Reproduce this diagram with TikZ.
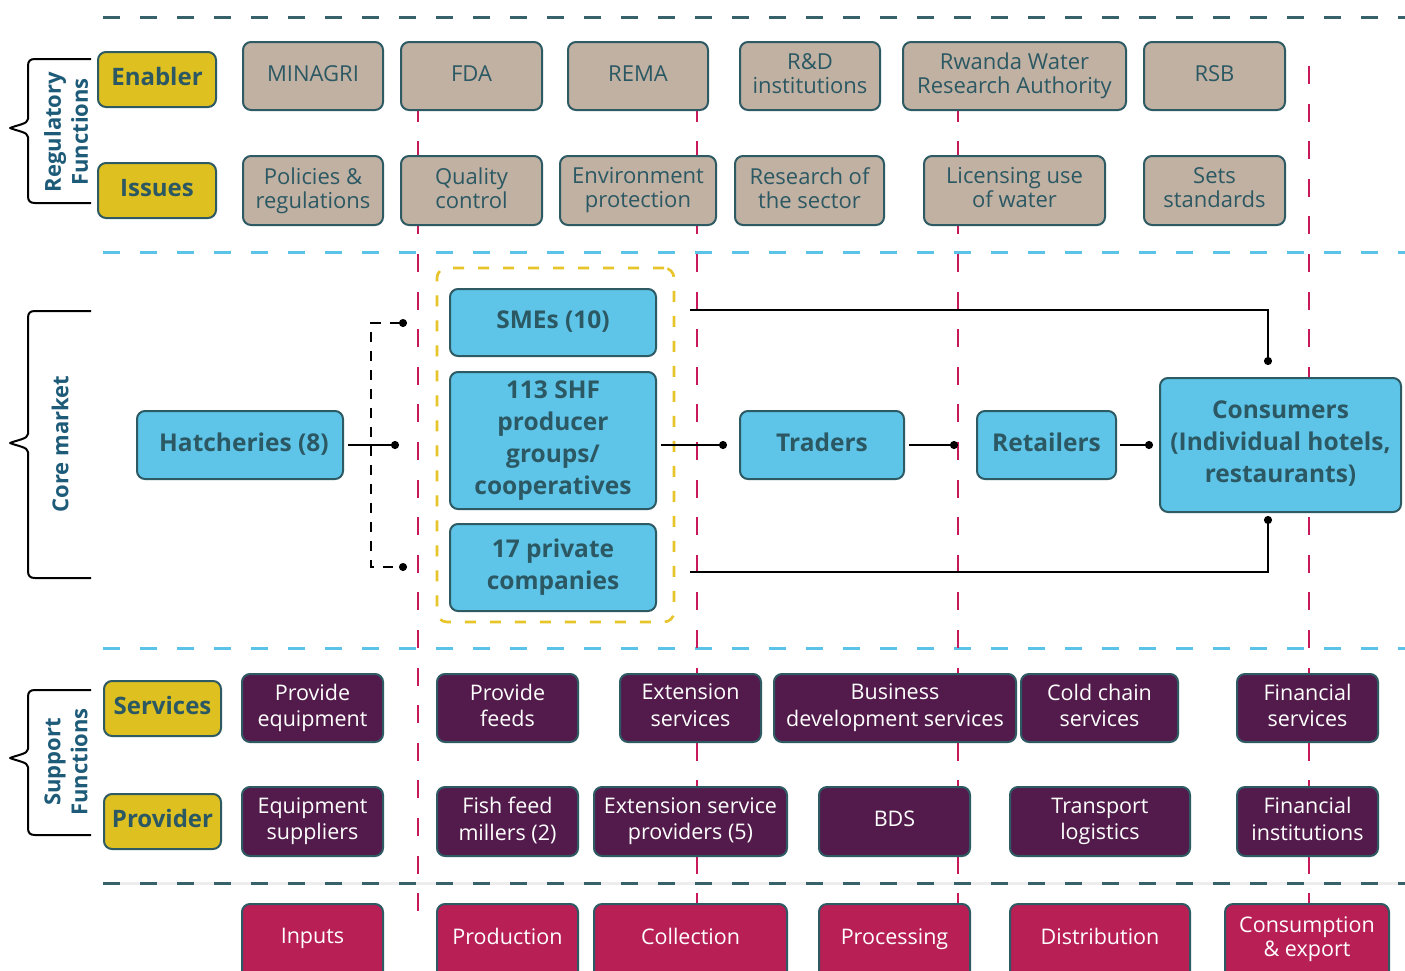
\documentclass[tikz,border=0pt]{standalone}
\usepackage{fontspec}
\setmainfont{Open Sans}
\usetikzlibrary{arrows.meta}

\definecolor{tealline}{HTML}{2E5A64}
\definecolor{tealtext}{HTML}{2B5863}
\definecolor{labelblue}{HTML}{1E5B79}
\definecolor{tanfill}{HTML}{C1B1A2}
\definecolor{goldfill}{HTML}{DFC021}
\definecolor{skyfill}{HTML}{5EC5E9}
\definecolor{plumfill}{HTML}{521B4B}
\definecolor{crimsonfill}{HTML}{B71F55}
\definecolor{stageline}{HTML}{C81A5A}
\definecolor{bandteal}{HTML}{37626B}
\definecolor{bandsky}{HTML}{5BC3E8}
\definecolor{groupgold}{HTML}{E6C42A}

\pgfdeclarelayer{paper}
\pgfdeclarelayer{guides}
\pgfdeclarelayer{plates}
\pgfsetlayers{paper,guides,plates,main}

% box from its corners: style, name, x1, y1, x2, y2, text
\newcommand\mkbox[7]{\node[#1, minimum width={(#5)-(#3)}, minimum height={(#6)-(#4)}] (#2) at ({((#3)+(#5))/2},{((#4)+(#6))/2}) {#7};}

% curly bracket on the left margin: top, tip, bottom
\newcommand\curly[3]{%
  \draw[curlybrace] (91,#1) -- (35,#1) .. controls (30,#1) and (28,{#1+2}) .. (28,{#1+7})
    -- (28,{#2-9}) .. controls (28,{#2-4}) and (17,{#2-3}) .. (10,#2)
    .. controls (17,{#2+3}) and (28,{#2+4}) .. (28,{#2+9})
    -- (28,{#3-7}) .. controls (28,{#3-2}) and (30,#3) .. (35,#3) -- (91,#3);}

\tikzset{
  basebox/.style={draw=tealline, line width=2pt, rounded corners=8pt, inner sep=0pt, outer sep=0pt, align=center},
  regbox/.style={basebox, fill=tanfill, text=tealtext, font=\fontsize{22}{24}\selectfont, text depth=5.5pt},
  tagbox/.style={basebox, fill=goldfill, text=tealtext, font=\bfseries\fontsize{24}{28}\selectfont, text depth=6pt},
  corebox/.style={basebox, fill=skyfill, text=tealtext, font=\bfseries\fontsize{24.5}{32}\selectfont, text depth=6pt},
  supbox/.style={basebox, fill=plumfill, text=white, font=\fontsize{21.5}{26.5}\selectfont, text depth=5.4pt},
  stagetext/.style={inner sep=0pt, outer sep=0pt, align=center, text=white, font=\fontsize{21.5}{24}\selectfont, text depth=5.4pt},
  stageplate/.style={draw=tealline, line width=2pt, rounded corners=8pt, fill=crimsonfill},
  groupframe/.style={draw=groupgold, line width=2.6pt, rounded corners=10pt, dash pattern=on 11pt off 14pt},
  sidelabel/.style={rotate=90, align=center, text=labelblue, font=\bfseries\fontsize{22}{27}\selectfont},
  curlybrace/.style={draw=black, line width=2pt, line join=round},
  link/.style={draw=black, line width=2pt, -{Circle[length=8pt,width=8pt]}},
  feedlink/.style={draw=black, line width=1.5pt, dash pattern=on 10pt off 9pt,
    {Circle[length=8pt,width=8pt]}-{Circle[length=8pt,width=8pt]}},
  banddash/.style={line width=3pt, dash pattern=on 17pt off 20pt},
  stagedash/.style={draw=stageline, line width=2.5pt, dash pattern=on 18pt off 19.6pt},
}

\begin{document}
\begin{tikzpicture}[x=1pt, y=-1pt]
\useasboundingbox (0,0) rectangle (1405,970);
\begin{pgfonlayer}{paper}
  \fill[white] (0,0) rectangle (1405,970);
\end{pgfonlayer}

% ---- band separators and stage guides -------------------------------
\begin{pgfonlayer}{guides}
  \draw[line width=3pt, black!7] (103,883) -- (1405,883);
  \draw[banddash, draw=bandteal] (103,17) -- (1405,17);
  \draw[banddash, draw=bandsky] (103,252) -- (1405,252);
  \draw[banddash, draw=bandsky] (103,648) -- (1405,648);
  \draw[banddash, draw=bandteal] (103,883) -- (1405,883);
  \foreach \gx in {418,697,958,1309}
    \draw[stagedash] (\gx,66) -- (\gx,930);
\end{pgfonlayer}

% ---- regulatory functions -------------------------------------------
\curly{59}{128}{203}
\node[sidelabel] (reglbl) at (66,132) {Regulatory\\Functions};

\mkbox{tagbox}{enabler}{98}{52}{216}{107}{Enabler}
\mkbox{tagbox}{issues}{98}{163}{216}{218}{Issues}

\mkbox{regbox}{minagri}{243}{42}{383}{110}{MINAGRI}
\mkbox{regbox}{fda}{401}{42}{542}{110}{FDA}
\mkbox{regbox}{rema}{568}{42}{708}{110}{REMA}
\mkbox{regbox}{rnd}{740}{42}{880}{110}{R\&D\\institutions}
\mkbox{regbox}{rwra}{903}{42}{1126}{110}{Rwanda Water\\Research Authority}
\mkbox{regbox}{rsb}{1144}{42}{1285}{110}{RSB}

\mkbox{regbox}{policies}{243}{156}{383}{225}{Policies \&\\regulations}
\mkbox{regbox}{quality}{401}{156}{542}{225}{Quality\\control}
\mkbox{regbox}{envprot}{560}{156}{716}{225}{Environment\\protection}
\mkbox{regbox}{research}{735}{156}{884}{225}{Research of\\the sector}
\mkbox{regbox}{licensing}{924}{156}{1105}{225}{Licensing use\\of water}
\mkbox{regbox}{sets}{1144}{156}{1285}{225}{Sets\\standards}

% ---- core market ----------------------------------------------------
\curly{311}{443}{578}
\node[sidelabel] (corelbl) at (60,444) {Core market};

\mkbox{groupframe}{producers}{437}{268}{674}{622}{}

\mkbox{corebox}{hatch}{137}{411}{343}{479}{\hspace*{8pt}Hatcheries (8)}
\mkbox{corebox}{smes}{450}{289}{656}{356}{SMEs (10)}
\mkbox{corebox}{shf}{450}{372}{656}{509}{113 SHF\\producer\\groups/\\cooperatives}
\mkbox{corebox}{priv}{450}{524}{656}{611}{17 private\\companies}
\mkbox{corebox}{traders}{740}{411}{904}{479}{Traders}
\mkbox{corebox}{retail}{977}{411}{1116}{479}{Retailers}
\mkbox{corebox}{cons}{1160}{378}{1401}{512}{Consumers\\(Individual hotels,\\restaurants)}

% junction points of the flow
\coordinate (hjoin) at (399,445);
\coordinate (fspine) at (371,445);
\coordinate (ftop) at (407,323);
\coordinate (fbot) at (407,567);
\coordinate (tjoin) at (727,445);
\coordinate (rjoin) at (958,445);
\coordinate (cjoin) at (1153,445);
\coordinate (smesout) at (690,310);
\coordinate (privout) at (690,572);
\coordinate (ctop) at (1268,365);
\coordinate (cbot) at (1268,516);

\draw[link, shorten <=5pt] (hatch.east |- hjoin) -- (hjoin);
\draw[feedlink] (ftop) -- (ftop -| fspine) -- (fbot -| fspine) -- (fbot);
\draw[link, shorten <=5pt] (shf.east |- tjoin) -- (tjoin);
\draw[link, shorten <=5pt] (traders.east |- rjoin) -- (rjoin);
\draw[link, shorten <=4pt] (retail.east |- cjoin) -- (cjoin);
\draw[link] (smesout) -| (ctop);
\draw[link] (privout) -| (cbot);

% ---- support functions ----------------------------------------------
\curly{690}{758}{835}
\node[sidelabel] (suplbl) at (66,762) {Support\\Functions};

\mkbox{tagbox}{services}{104}{681}{221}{736}{Services}
\mkbox{tagbox}{provider}{104}{794}{221}{849}{Provider}

\mkbox{supbox}{provequip}{242}{674}{383}{742}{Provide\\equipment}
\mkbox{supbox}{provfeeds}{437}{674}{578}{742}{Provide\\feeds}
\mkbox{supbox}{extserv}{620}{674}{761}{742}{Extension\\services}
\mkbox{supbox}{bizdev}{774}{674}{1016}{742}{Business\\development services}
\mkbox{supbox}{coldchain}{1021}{674}{1178}{742}{Cold chain\\services}
\mkbox{supbox}{finserv}{1237}{674}{1378}{742}{Financial\\services}

\mkbox{supbox}{equipsup}{242}{787}{383}{856}{Equipment\\suppliers}
\mkbox{supbox}{feedmill}{437}{787}{578}{856}{Fish feed\\millers (2)}
\mkbox{supbox}{extprov}{594}{787}{787}{856}{Extension service\\providers (5)}
\mkbox{supbox}{bds}{819}{787}{970}{856}{BDS}
\mkbox{supbox}{transport}{1010}{787}{1190}{856}{Transport\\logistics}
\mkbox{supbox}{fininst}{1237}{787}{1378}{856}{Financial\\institutions}

% ---- value chain stages (plates run off the lower edge) -------------
\mkbox{stagetext}{inputs}{242}{907}{383}{971}{Inputs}
\mkbox{stagetext}{production}{437}{907}{578}{971}{Production}
\mkbox{stagetext}{collection}{594}{907}{787}{971}{Collection}
\mkbox{stagetext}{processing}{819}{907}{970}{971}{Processing}
\mkbox{stagetext}{distribution}{1010}{907}{1190}{971}{Distribution}
\mkbox{stagetext}{consumption}{1225}{907}{1389}{971}{Consumption\\\& export}

\begin{pgfonlayer}{plates}
  \foreach \st in {inputs,production,collection,processing,distribution,consumption}
    \draw[stageplate] ([yshift=3pt]\st.north west) rectangle ([yshift=-30pt]\st.south east);
\end{pgfonlayer}
\end{tikzpicture}
\end{document}
